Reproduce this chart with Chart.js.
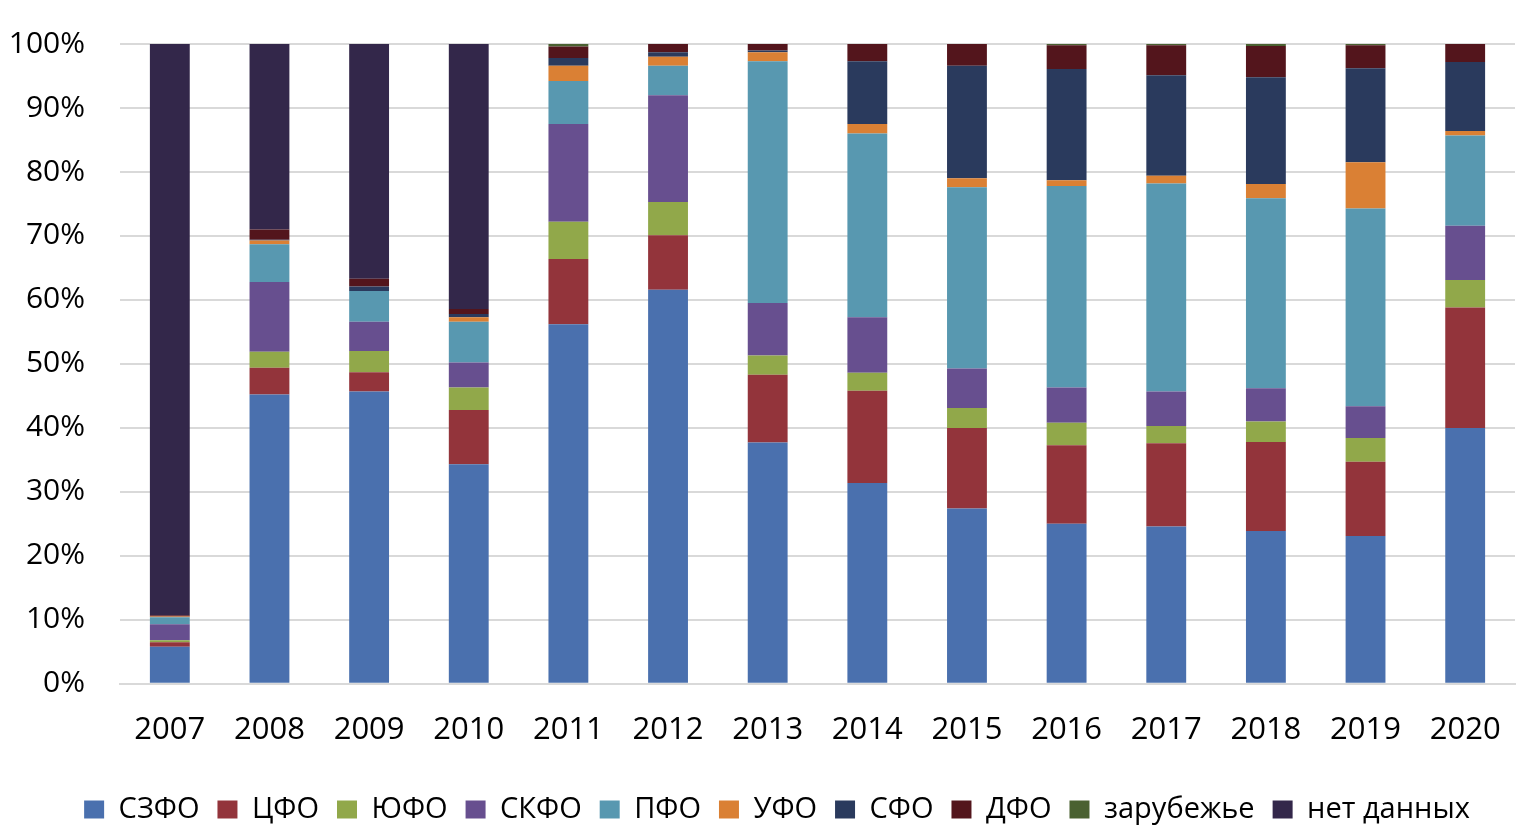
<!DOCTYPE html>
<html>
<head>
<meta charset="utf-8">
<script src="https://cdn.jsdelivr.net/npm/chart.js@4"></script>
<style>
  html, body { margin: 0; padding: 0; background: #fff; }
  #wrap { width: 1535px; height: 830px; }
</style>
</head>
<body>
<div id="wrap"><canvas id="chart" width="1535" height="830"></canvas></div>
<script>
// years on x axis
var years = ["2007", "2008", "2009", "2010", "2011", "2012", "2013", "2014", "2015", "2016", "2017", "2018", "2019", "2020"];

// shares in %, bottom to top of each stack
var szfo    = [5.8, 45.2, 45.7, 34.3, 56.2, 61.6, 37.7, 31.4, 27.4, 25.0, 24.6, 23.9, 23.1, 40.0];
var cfo     = [0.7, 4.2, 3.0, 8.5, 10.2, 8.5, 10.6, 14.4, 12.6, 12.3, 13.0, 13.9, 11.6, 18.8];
var yufo    = [0.3, 2.5, 3.3, 3.5, 5.8, 5.2, 3.0, 2.8, 3.1, 3.5, 2.7, 3.2, 3.7, 4.3];
var skfo    = [2.5, 10.9, 4.6, 3.9, 15.3, 16.7, 8.2, 8.7, 6.2, 5.5, 5.4, 5.2, 5.0, 8.5];
var pfo     = [1.1, 5.9, 4.8, 6.4, 6.7, 4.6, 37.8, 28.7, 28.3, 31.5, 32.5, 29.7, 30.9, 14.1];
var ufo     = [0.1, 0.6, 0, 0.7, 2.4, 1.4, 1.4, 1.5, 1.4, 0.9, 1.2, 2.2, 7.2, 0.7];
var sfo     = [0, 0.1, 0.7, 0.5, 1.2, 0.7, 0.3, 9.8, 17.6, 17.4, 15.7, 16.7, 14.7, 10.8];
var dfo     = [0.2, 1.6, 1.2, 0.8, 1.8, 1.3, 1.0, 2.7, 3.4, 3.7, 4.7, 4.9, 3.6, 2.8];
var abroad  = [0, 0, 0, 0, 0.4, 0, 0, 0, 0, 0.2, 0.2, 0.3, 0.2, 0];
var noData  = [89.3, 29.0, 36.7, 41.4, 0, 0, 0, 0, 0, 0, 0, 0, 0, 0];

var yTicks = [0, 10, 20, 30, 40, 50, 60, 70, 80, 90, 100];

var series = [
    {label: "СЗФО", data: szfo, color: "#4a70ae"},
    {label: "ЦФО", data: cfo, color: "#93343b"},
    {label: "ЮФО", data: yufo, color: "#91a84a"},
    {label: "СКФО", data: skfo, color: "#674f8f"},
    {label: "ПФО", data: pfo, color: "#5898b0"},
    {label: "УФО", data: ufo, color: "#da8034"},
    {label: "СФО", data: sfo, color: "#2a3a5d"},
    {label: "ДФО", data: dfo, color: "#53151c"},
    {label: "зарубежье", data: abroad, color: "#4a6131"},
    {label: "нет данных", data: noData, color: "#33274a"}
];

var fontFamily = "'Open Sans', 'Liberation Sans', sans-serif";

// the legend in the original sits a bit right of centre
var shiftLegend = {
    id: 'shiftLegend',
    beforeDraw: function(chart) {
        chart.legend.left = 39;
        chart.legend.right = 1515;
    }
};

const ctx = document.getElementById('chart').getContext('2d');
const chart = new Chart(ctx, {
    type: 'bar',
    data: {
        labels: years,
        datasets: series.map(function(s) {
            return {
                label: s.label,
                data: s.data,
                backgroundColor: s.color,
                borderWidth: 0,
                barPercentage: 0.4,
                categoryPercentage: 1.0
            };
        })
    },
    options: {
        responsive: false,
        animation: false,
        layout: {padding: {top: 44, right: 20, left: 0, bottom: -4}},
        plugins: {
            tooltip: {enabled: false},
            legend: {
                position: 'bottom',
                labels: {
                    boxWidth: 20,
                    boxHeight: 18,
                    padding: 18,
                    color: '#000',
                    font: {family: fontFamily, size: 29}
                }
            }
        },
        scales: {
            x: {
                stacked: true,
                grid: {display: false, drawTicks: false},
                border: {display: true, color: '#d9d9d9', width: 2},
                ticks: {color: '#000', padding: 28, font: {family: fontFamily, size: 31}}
            },
            y: {
                stacked: true,
                min: 0,
                max: 100,
                afterFit: function(scale) { scale.width = 120; },
                afterBuildTicks: function(scale) {
                    scale.ticks = yTicks.map(function(v) { return {value: v}; });
                },
                grid: {color: '#d9d9d9', lineWidth: 2, drawTicks: true, tickLength: 27, tickColor: 'rgba(0,0,0,0)'},
                border: {display: false},
                ticks: {
                    color: '#000',
                    padding: 8,
                    font: {family: fontFamily, size: 30},
                    callback: function(v) { return v + '%'; }
                }
            }
        }
    },
    plugins: [shiftLegend]
});
</script>
</body>
</html>
